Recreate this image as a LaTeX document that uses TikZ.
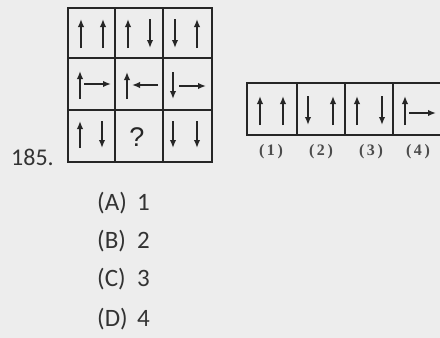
\documentclass[tikz,border=0pt]{standalone}
\usepackage{fontspec}
\setmainfont{Carlito}
\newfontfamily\lblfont{Liberation Serif}
\newfontfamily\qfont{Liberation Sans}
\usetikzlibrary{arrows.meta}
\begin{document}
\begin{tikzpicture}[x=1pt,y=-1pt,
  box/.style={draw=black!85,line width=1.5pt},
  arr/.style={line width=1.9pt,-{Latex[length=8pt,width=6.5pt]},draw=black!85},
  opt/.style={anchor=base west,inner sep=0pt,font=\fontsize{25}{25}\selectfont,text=black!80},
  lbl/.style={inner sep=0pt,font=\lblfont\bfseries\fontsize{16}{16}\selectfont,text=black!70},
]
\fill[black!7] (0,0) rectangle (440,338);
\useasboundingbox (0,0) rectangle (440,338);
% grid
\draw[box] (68,8) rectangle (212,162);
\draw[box] (115,8) -- (115,162) (163,8) -- (163,162);
\draw[box] (68,58) -- (212,58) (68,110) -- (212,110);
% row 1
\draw[arr] (81,48) -- (81,19);
\draw[arr] (103,48) -- (103,19);
\draw[arr] (128,48) -- (128,19);
\draw[arr] (150,19) -- (150,48);
\draw[arr] (175,19) -- (175,48);
\draw[arr] (197,48) -- (197,19);
% row 2
\draw[arr] (80,99) -- (80,71);
\draw[arr] (84,84) -- (111,84);
\draw[arr] (127,99) -- (127,72);
\draw[arr] (158,85) -- (132,85);
\draw[arr] (173,72) -- (173,99);
\draw[arr] (179,86) -- (206,86);
% row 3
\draw[arr] (80,148) -- (80,121);
\draw[arr] (102,121) -- (102,148);
\node[font=\qfont\fontsize{27}{27}\selectfont,text=black!85,inner sep=0pt] (q) at (137,137) {?};
\draw[arr] (173,121) -- (173,148);
\draw[arr] (197,121) -- (197,148);
% answer strip
\draw[box] (247,83) rectangle (445,135);
\draw[box] (297,83) -- (297,135) (345,83) -- (345,135) (393,83) -- (393,135);
\draw[arr] (260,125) -- (260,96);
\draw[arr] (283,125) -- (283,96);
\draw[arr] (308,96) -- (308,125);
\draw[arr] (333,125) -- (333,96);
\draw[arr] (357,125) -- (357,96);
\draw[arr] (382,96) -- (382,125);
\draw[arr] (405,125) -- (405,96);
\draw[arr] (409,113) -- (436,113);
\node[lbl] (l1) at (271,152) {(\,1\,)};
\node[lbl] (l2) at (321,152) {(\,2\,)};
\node[lbl] (l3) at (371,152) {(\,3\,)};
\node[lbl] (l4) at (418,152) {(\,4\,)};
% question number
\node[opt,font=\fontsize{24}{24}\selectfont] (n) at (11,165) {185.};
% options
\node[opt] (a) at (97,210) {(A)};
\node[opt] (a1) at (137,210) {1};
\node[opt] (b) at (97,248) {(B)};
\node[opt] (b1) at (137,248) {2};
\node[opt] (c) at (97,286) {(C)};
\node[opt] (c1) at (137,286) {3};
\node[opt] (d) at (97,326) {(D)};
\node[opt] (d1) at (137,326) {4};
\end{tikzpicture}
\end{document}
